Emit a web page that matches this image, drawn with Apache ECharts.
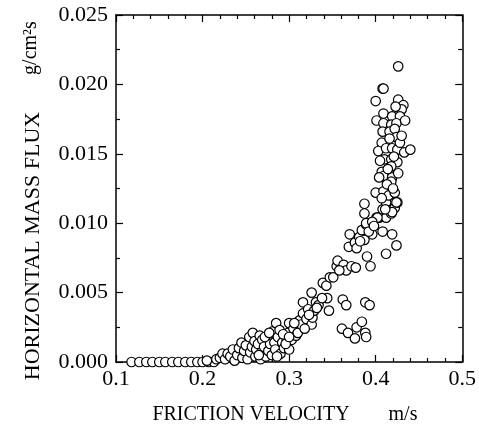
<!DOCTYPE html>
<html>
<head>
<meta charset="utf-8">
<script src="https://cdn.jsdelivr.net/npm/echarts@6/dist/echarts.min.js"></script>
<style>
html,body{margin:0;padding:0;background:#fff;}
#chart{width:479px;height:435px;}
</style>
</head>
<body>
<div id="chart"></div>
<script>
// Friction velocity (m/s)
var velocity = [
0.118,0.127,0.135,0.142,0.150,0.157,0.165,0.172,0.180,0.187,0.194,0.200,0.207,0.213,0.205,0.216,
0.220,0.223,0.226,0.229,0.232,0.235,0.237,0.240,0.242,0.245,0.246,0.248,0.250,0.252,0.254,0.255,0.257,0.258,0.260,0.261,
0.262,0.264,0.266,0.267,0.268,0.269,0.271,0.273,0.275,0.276,0.278,0.280,0.281,0.283,0.284,0.285,0.287,0.289,0.290,0.292,
0.294,0.297,0.299,0.300,0.300,0.303,0.305,0.308,0.310,0.312,0.314,0.316,0.316,0.320,0.322,0.326,0.327,0.326,0.329,0.331,
0.334,0.339,0.343,0.344,0.346,0.347,0.355,0.356,0.363,0.366,0.372,0.377,0.362,0.366,0.361,0.368,0.376,0.378,0.384,0.388,
0.389,0.388,0.393,0.369,0.370,0.376,0.381,0.384,0.387,0.389,0.395,0.396,0.387,0.390,0.394,0.408,0.412,0.419,0.424,0.401,
0.404,0.412,0.408,0.418,0.422,0.425,0.412,
0.408,0.400,0.426,0.432,0.430,0.423,0.409,0.419,0.428,0.401,0.409,0.418,0.424,0.434,0.408,0.416,0.422,0.424,0.407,0.416,
0.403,0.412,0.419,0.425,0.433,0.440,0.410,0.418,0.425,0.418,0.407,0.415,0.409,0.419,0.404,0.418,0.400,0.409,0.415,0.422,
0.407,0.424,0.387,0.426,0.409,0.426,0.419,0.411,0.402,0.389,0.396,
0.413,0.420,0.405,0.428,0.414,0.421,0.430,
0.265,0.272,0.277,0.286,0.293,0.296,0.300,0.306,0.318,0.323,0.332,0.338,0.351,0.358,0.378,0.382,0.392,0.398
];
// Horizontal mass flux (g/cm^2 s)
var flux = [
0,0,0,0,0,0,0,0,0,0,0,0,0,0,0.0001,0.0002,
0.0003,0.0006,0.0002,0.0006,0.0004,0.0009,0.0001,0.0005,0.0010,0.0014,0.0003,0.0008,0.0012,0.0002,0.0018,0.0007,0.0011,0.0021,0.0015,0.0004,
0.0009,0.0013,0.0019,0.0002,0.0007,0.0016,0.0011,0.0004,0.0018,0.0008,0.0013,0.0005,0.0022,0.0014,0.0009,0.0028,0.0018,0.0023,0.0006,0.0014,
0.0010,0.0017,0.0021,0.0028,0.0009,0.0016,0.0024,0.0019,0.0021,0.0030,0.0027,0.0035,0.0043,0.0031,0.0038,0.0027,0.0032,0.0050,0.0037,0.0043,
0.0041,0.0057,0.0055,0.0046,0.0037,0.0061,0.0069,0.0073,0.0070,0.0066,0.0069,0.0068,0.0045,0.0041,0.0024,0.0021,0.0017,0.0025,0.0029,0.0021,
0.0018,0.0043,0.0041,0.0083,0.0092,0.0086,0.0090,0.0095,0.0088,0.0099,0.0097,0.0092,0.0107,0.0076,0.0069,0.0094,0.0078,0.0092,0.0084,0.0104,
0.0104,0.0104,0.0110,0.0107,0.0111,0.0115,0.0115,
0.0197,0.0188,0.0189,0.0185,0.0182,0.0184,0.0179,0.0177,0.0177,0.0174,0.0172,0.0171,0.0172,0.0174,0.0166,0.0166,0.0168,0.0162,0.0158,0.0161,
0.0152,0.0154,0.0154,0.0153,0.0151,0.0153,0.0146,0.0146,0.0144,0.0141,0.0137,0.0136,0.0134,0.0133,0.0133,0.0130,0.0122,0.0123,0.0120,0.0122,
0.0118,0.0115,0.0114,0.0213,0.0197,0.0136,0.0108,0.0110,0.0104,0.0100,0.0101,
0.0128,0.0125,0.0145,0.0158,0.0139,0.0148,0.0163,
0.0005,0.0018,0.0021,0.0004,0.0020,0.0013,0.0018,0.0028,0.0024,0.0034,0.0039,0.0046,0.0061,0.0066,0.0082,0.0087,0.0094,0.0098
];
var xTicks = [0.1, 0.2, 0.3, 0.4, 0.5];
var yTicks = [0.000, 0.005, 0.010, 0.015, 0.020, 0.025];
var xLabel = 'FRICTION VELOCITY';
var xUnit = 'm/s';
var yLabel = 'HORIZONTAL MASS FLUX';
var yUnit = 'g/cm\u00B2s';

var points = velocity.map(function (v, i) { return [v, flux[i]]; });
var FONT = '"Liberation Serif", "Times New Roman", serif';

function axisBase(showLabel, fmt) {
  return {
    axisLine: { show: true, onZero: false, lineStyle: { color: '#000', width: 1.5 } },
    axisTick: { show: true, inside: true, length: 7, lineStyle: { color: '#000', width: 1.2 } },
    minorTick: { show: true, length: 4, lineStyle: { color: '#000', width: 1.2 } },
    splitLine: { show: false },
    axisLabel: { show: showLabel, color: '#000', fontFamily: FONT, fontSize: 22, formatter: fmt }
  };
}

var chart = echarts.init(document.getElementById('chart'), null, { renderer: 'canvas' });

var xMin = xTicks[0], xMax = xTicks[xTicks.length - 1];
var yMin = yTicks[0], yMax = yTicks[yTicks.length - 1];

var xb = Object.assign({ type: 'value', min: xMin, max: xMax, interval: 0.1, position: 'bottom' },
  axisBase(true, function (v) { return v.toFixed(1); }));
xb.minorTick.splitNumber = 5;
xb.axisLabel.margin = 6;
var xt = Object.assign({ type: 'value', min: xMin, max: xMax, interval: 0.1, position: 'top' },
  axisBase(false));
xt.minorTick.splitNumber = 5;
var yl = Object.assign({ type: 'value', min: yMin, max: yMax, interval: 0.005, position: 'left' },
  axisBase(true, function (v) { return v.toFixed(3); }));
yl.minorTick.splitNumber = 2;
yl.axisLabel.margin = 8;
var yr = Object.assign({ type: 'value', min: yMin, max: yMax, interval: 0.005, position: 'right' },
  axisBase(false));
yr.minorTick.splitNumber = 2;

chart.setOption({
  backgroundColor: '#fff',
  animation: false,
  grid: { left: 116, right: 16, top: 15, bottom: 73, containLabel: false },
  xAxis: [xb, xt],
  yAxis: [yl, yr],
  graphic: [
    { type: 'text', x: 251, y: 415, style: { text: xLabel, font: '20px ' + FONT, fill: '#000', textAlign: 'center', textVerticalAlign: 'middle' } },
    { type: 'text', x: 403, y: 415, style: { text: xUnit, font: '20px ' + FONT, fill: '#000', textAlign: 'center', textVerticalAlign: 'middle' } },
    { type: 'text', x: 33, y: 246, rotation: Math.PI / 2, style: { text: yLabel, font: '22px ' + FONT, fill: '#000', textAlign: 'center', textVerticalAlign: 'middle' } },
    { type: 'text', x: 31, y: 48, rotation: Math.PI / 2, style: { text: yUnit, font: '20px ' + FONT, fill: '#000', textAlign: 'center', textVerticalAlign: 'middle' } }
  ],
  series: [{
    type: 'scatter',
    xAxisIndex: 0,
    yAxisIndex: 0,
    data: points,
    symbol: 'circle',
    symbolSize: 9.5,
    itemStyle: { color: '#fff', borderColor: '#000', borderWidth: 1.2, opacity: 1 }
  }]
});
</script>
</body>
</html>
